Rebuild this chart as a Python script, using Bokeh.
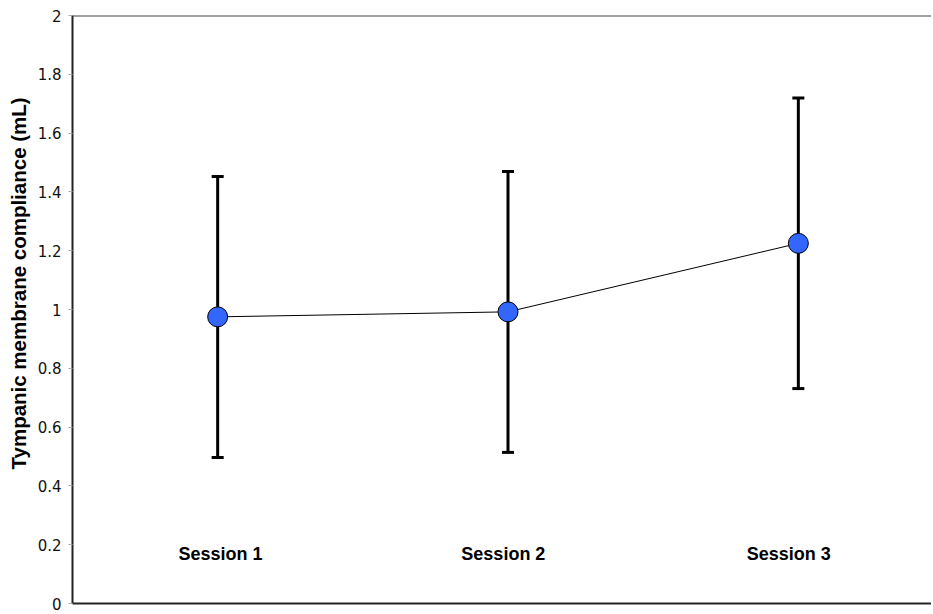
from bokeh.plotting import figure
from bokeh.models import ColumnDataSource, Whisker, TeeHead, Span, Range1d, FixedTicker, Title
from bokeh.core.properties import value
from bokeh.embed import file_html
from bokeh.resources import INLINE

sessions = ["Session 1", "Session 2", "Session 3"]
positions = [0.5, 1.5, 2.5]
means = [0.975, 0.992, 1.225]
upper = [1.452, 1.469, 1.719]
lower = [0.497, 0.514, 0.731]
y_ticks = [0, 0.2, 0.4, 0.6, 0.8, 1, 1.2, 1.4, 1.6, 1.8, 2]
y_tick_labels = {0: "0", 0.2: "0.2", 0.4: "0.4", 0.6: "0.6", 0.8: "0.8", 1: "1",
                 1.2: "1.2", 1.4: "1.4", 1.6: "1.6", 1.8: "1.8", 2: "2"}
label_x = [0.51, 1.484, 2.467]
label_y = [0.17, 0.17, 0.17]
y_title = "Tympanic membrane compliance (mL)"

src = ColumnDataSource(dict(x=positions, y=means, upper=upper, lower=lower))
lab = ColumnDataSource(dict(x=label_x, y=label_y, name=sessions))

p = figure(width=931, height=612, output_backend="svg", toolbar_location=None,
           x_range=Range1d(0, 858 / 290), y_range=Range1d(0, 2),
           min_border_left=72, min_border_right=0, min_border_top=15, min_border_bottom=9)
p.outline_line_color = None
p.xgrid.visible = False
p.ygrid.visible = False

p.xaxis.ticker = FixedTicker(ticks=[])
p.xaxis.major_tick_line_color = None
p.xaxis.minor_tick_line_color = None
p.xaxis.axis_line_color = "#222222"
p.xaxis.axis_line_width = 2
p.xaxis.major_label_standoff = 0

p.yaxis.ticker = FixedTicker(ticks=y_ticks)
p.yaxis.major_label_overrides = y_tick_labels
p.yaxis.axis_line_color = "#222222"
p.yaxis.axis_line_width = 2
p.yaxis.major_tick_line_color = "#aaaaaa"
p.yaxis.major_tick_in = 0
p.yaxis.major_tick_out = 4
p.yaxis.minor_tick_line_color = None
p.yaxis.major_label_text_font = "DejaVu Sans"
p.yaxis.major_label_text_font_size = "15px"
p.yaxis.major_label_text_color = "#111111"
p.yaxis.major_label_standoff = 7

title = Title(text=y_title, align="left", offset=134, standoff=9,
              text_font="Liberation Sans", text_font_style="bold",
              text_font_size="20.5px", text_color="black")
p.add_layout(title, "left")

top = Span(location=2, dimension="width", line_color="#444444", line_width=2)
p.add_layout(top)

w = Whisker(source=src, base="x", upper="upper", lower="lower",
            line_color="black", line_width=3,
            upper_head=TeeHead(size=12, line_color="black", line_width=3),
            lower_head=TeeHead(size=12, line_color="black", line_width=3))
p.add_layout(w)

p.line("x", "y", source=src, line_color="black", line_width=1)
p.scatter("x", "y", source=src, size=20, fill_color="#3366ff",
          line_color="black", line_width=1)

p.text("x", "y", text="name", source=lab, text_font=value("Liberation Sans"),
       text_font_style="bold", text_font_size="18px", text_align="center",
       text_baseline="middle", text_color="black")

open("out.html", "w").write(file_html(p, INLINE))
